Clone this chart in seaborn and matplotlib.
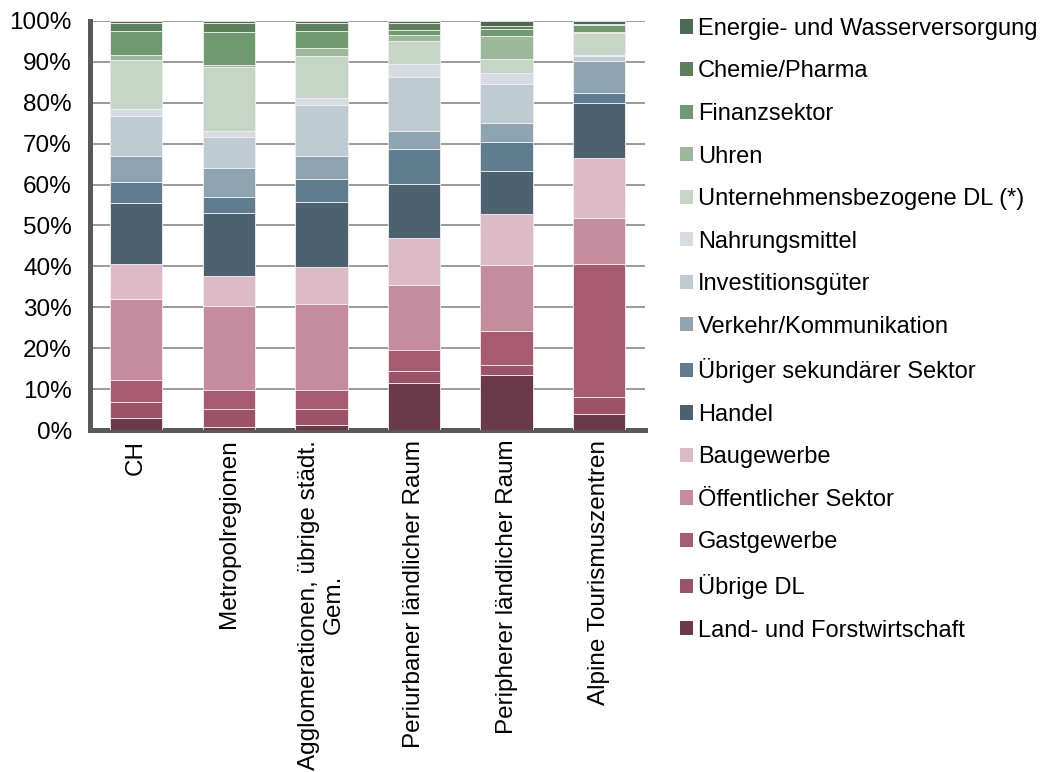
"""
Stacked 100% bars: Beschaeftigungsstruktur nach Raumtyp.
"""

import numpy as np
import pandas as pd
import matplotlib
matplotlib.use("Agg")
import matplotlib.pyplot as plt
from matplotlib.patches import Patch
from matplotlib.ticker import FuncFormatter
import seaborn as sns

# sectors, bottom -> top of each bar
SECTORS = [
    "Land- und Forstwirtschaft",
    "Übrige DL",
    "Gastgewerbe",
    "Öffentlicher Sektor",
    "Baugewerbe",
    "Handel",
    "Übriger sekundärer Sektor",
    "Verkehr/Kommunikation",
    "Investitionsgüter",
    "Nahrungsmittel",
    "Unternehmensbezogene DL (*)",
    "Uhren",
    "Finanzsektor",
    "Chemie/Pharma",
    "Energie- und Wasserversorgung",
]

REGIONS = [
    "CH",
    "Metropolregionen",
    "Agglomerationen, übrige städt.\nGem.",
    "Periurbaner ländlicher Raum",
    "Peripherer ländlicher Raum",
    "Alpine Tourismuszentren",
]

# shares in %, same order as SECTORS
ch        = [3.0, 3.9, 5.3, 19.7, 8.7, 14.9, 5.1, 6.4, 9.8, 1.6, 12.0, 1.3, 5.8, 1.9, 0.6]
metro     = [0.8, 4.3, 4.6, 20.7, 7.2, 15.5, 3.8, 7.2, 7.6, 1.3, 15.6, 0.6, 8.1, 2.1, 0.6]
agglo     = [1.2, 3.9, 4.6, 21.1, 9.0, 15.9, 5.7, 5.6, 12.4, 1.7, 10.2, 2.0, 4.2, 1.9, 0.6]
periurban = [11.6, 2.8, 5.2, 15.9, 11.4, 13.3, 8.6, 4.3, 13.1, 3.3, 5.6, 1.5, 1.2, 1.6, 0.6]
peripher  = [13.5, 2.3, 8.5, 16.1, 12.5, 10.4, 7.1, 4.7, 9.5, 2.6, 3.4, 5.7, 1.7, 0.7, 1.3]
alpine    = [3.8, 4.3, 32.5, 11.3, 14.6, 13.5, 2.4, 7.9, 1.0, 0.4, 5.3, 0.2, 1.7, 0.3, 0.8]

COLORS = [
    "#6b3a4a", "#9c5268", "#a65b71", "#c48c9e", "#dcbac6",
    "#4c6270", "#5f7d8f", "#8fa4b1", "#bfcbd3", "#d5dde2",
    "#c6d6c6", "#9bb89b", "#6f9a6f", "#5d7f5c", "#4a6b4f",
]

sns.set_style("white")
plt.rcParams["font.family"] = ["Liberation Sans", "DejaVu Sans"]
plt.rcParams["text.color"] = "black"
plt.rcParams["xtick.color"] = "black"
plt.rcParams["ytick.color"] = "black"
FS = 17.5
LEG_FS = 17

df = pd.DataFrame([ch, metro, agglo, periurban, peripher, alpine],
                  index=REGIONS, columns=SECTORS)

fig = plt.figure(figsize=(10.46, 7.72), dpi=100)
ax = fig.add_axes([0.086, 0.443, 0.531, 0.530])

bottom = np.zeros(len(REGIONS))
for sector, color in zip(SECTORS, COLORS):
    sns.barplot(x=df.index, y=df[sector].values, bottom=bottom, color=color,
                width=0.565, errorbar=None, edgecolor="#f4eef0", linewidth=0.6,
                saturation=1, ax=ax, zorder=3)
    bottom = bottom + df[sector].values

ax.set_xlim(-0.5, len(REGIONS) - 0.5)
ax.set_ylim(0, 100)
ax.set_yticks(np.arange(0, 101, 10))
ax.yaxis.set_major_formatter(FuncFormatter(lambda v, _: f"{v:.0f}%"))
ax.yaxis.grid(True, color="#808080", linewidth=1.1, zorder=0)
ax.set_axisbelow(True)
ax.set_xlabel("")
ax.set_ylabel("")

ax.tick_params(axis="y", length=0, pad=13, labelsize=FS, labelcolor="black")
ax.tick_params(axis="x", length=0, pad=7, labelsize=FS, labelcolor="black")
plt.setp(ax.get_xticklabels(), rotation=90, ha="center", va="top",
         multialignment="center")

for side in ["top", "right"]:
    ax.spines[side].set_visible(False)
for side in ["left", "bottom"]:
    ax.spines[side].set_color("#595959")
    ax.spines[side].set_linewidth(3.6)

handles = [Patch(facecolor=c, edgecolor="none", label=s)
           for s, c in zip(SECTORS[::-1], COLORS[::-1])]
fig.legend(handles=handles, loc="upper left", bbox_to_anchor=(0.6415, 0.989),
           frameon=False, fontsize=LEG_FS, handlelength=0.55, handleheight=0.55,
           handletextpad=0.2, labelspacing=0.87, borderaxespad=0,
           labelcolor="black")

fig.savefig("out.png", dpi=100, facecolor="white")
